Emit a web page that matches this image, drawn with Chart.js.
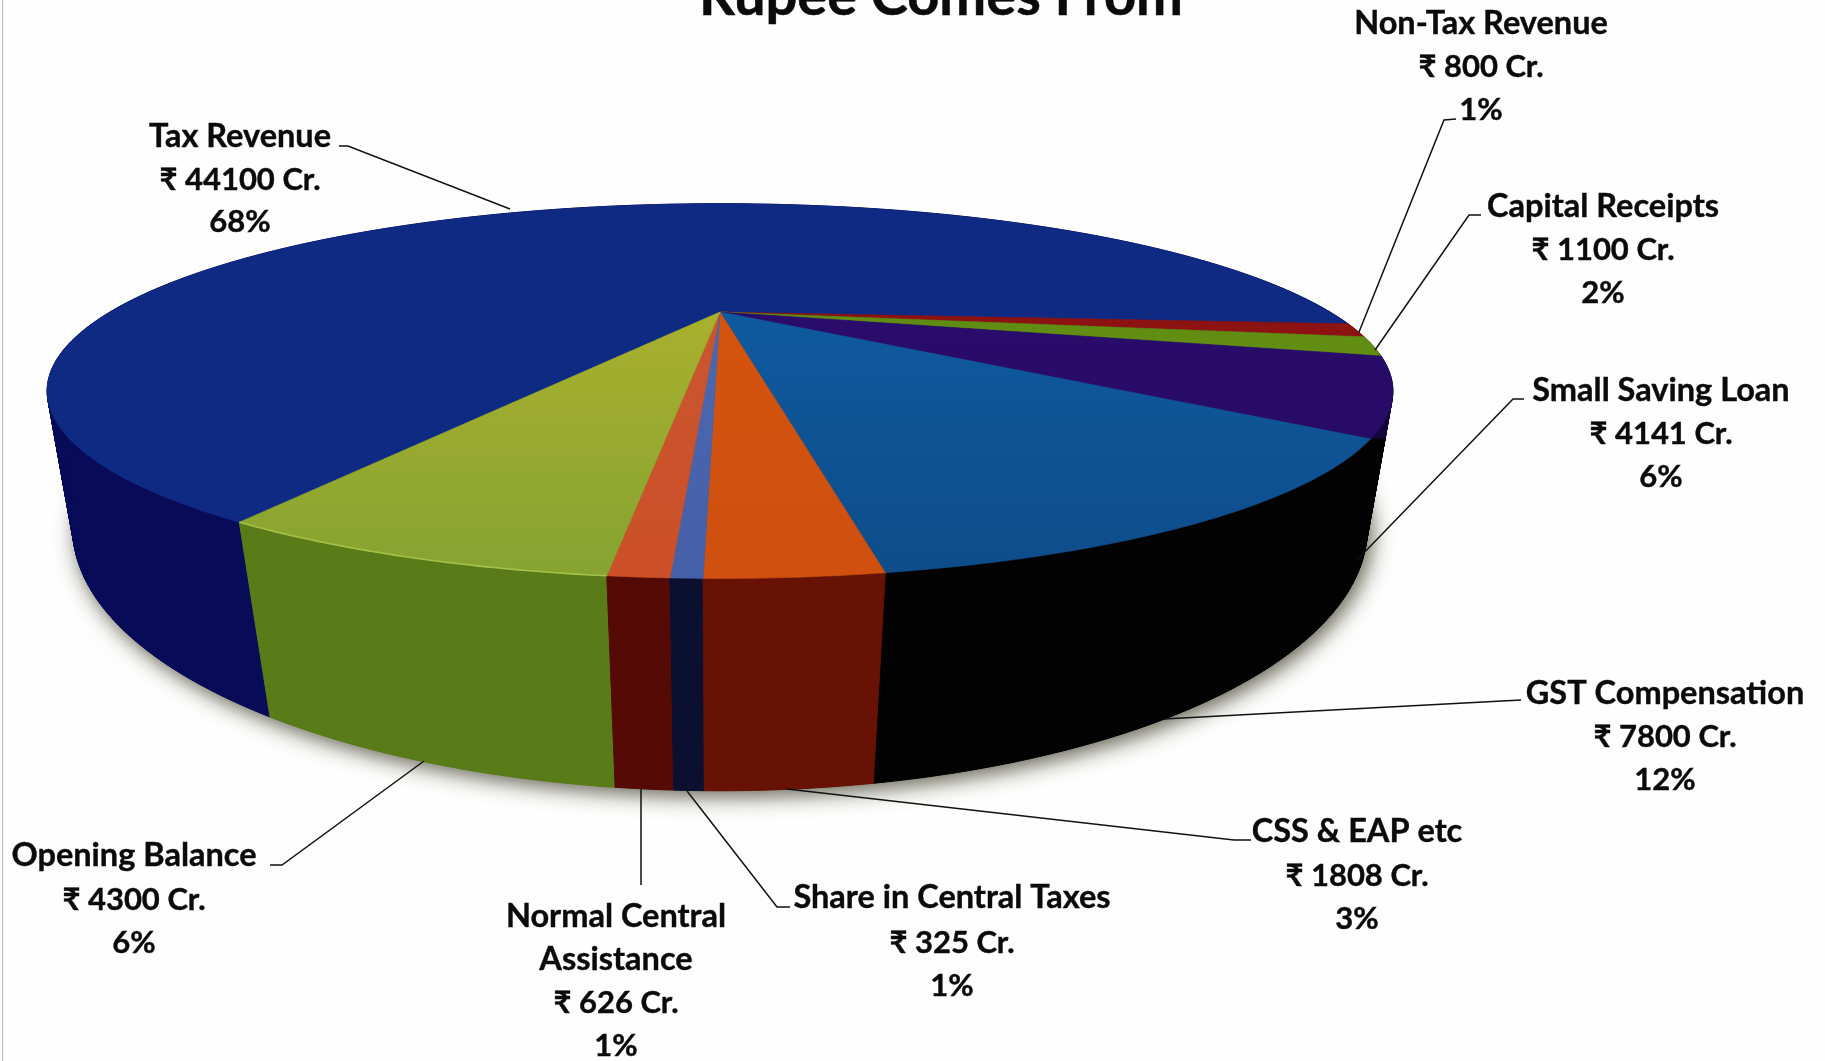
<!DOCTYPE html>
<html><head><meta charset="utf-8">
<style>html,body{margin:0;padding:0;background:#fff;overflow:hidden}canvas{display:block}</style>
<script src="https://cdn.jsdelivr.net/npm/chart.js@4"></script>
</head><body><canvas id="c" width="1825" height="1061"></canvas>
<script>
const titleText = "Rupee Comes From";
const categories = ["Tax Revenue","Non-Tax Revenue","Capital Receipts","Small Saving Loan","GST Compensation","CSS & EAP etc","Share in Central Taxes","Normal Central Assistance","Opening Balance"];
const values = [44100,800,1100,4141,7800,1808,325,626,4300];
const valueLabels = ["₹ 44100 Cr.","₹ 800 Cr.","₹ 1100 Cr.","₹ 4141 Cr.","₹ 7800 Cr.","₹ 1808 Cr.","₹ 325 Cr.","₹ 626 Cr.","₹ 4300 Cr."];
const percentLabels = ["68%","1%","2%","6%","12%","3%","1%","1%","6%"];
const topColors = ["#0f2a82","#8c1212","#5f8c12","#2a0c6c","#0e5a9e","#d4540e","#4c68b2","#c9562f","#a9b02e"];
const topColorsFront = ["#0f2a84","#a01414","#6c9a14","#240a60","#0e4c8a","#cf500f","#4560a8","#cc5028","#86a331"];
const wallColors = ["#080c58","#3a0606","#2c4208","#14053c","#020203","#681206","#0c1030","#560a05","#5a7c18"];

/* Layout of the drawing, separate from the data */
const TOP = {cx:720, cy:312, a:610, b:154, k:0.422};
const BOTTOM = {cx:720, cy:426, a:596, b:222.5, k:0.39};
const project = (d, u, v) => { const w = 1 - d.k * v; return [d.cx + d.a * u / w, d.cy + d.b * v / w]; };
const LABEL_LAYOUT = [
  {x:240, y:[137,180,222], lead:[[339,146],[348,146],[510,209]]},
  {x:1481,y:[24,67,110],  lead:[[1456,119],[1444,120],[1359,332]]},
  {x:1603,y:[207,250,293],lead:[[1481,215],[1469,215],[1375,350]]},
  {x:1661,y:[391,434,477],lead:[[1524,399],[1513,399],[1356,561]]},
  {x:1665,y:[694,737,780],lead:[[1521,700],[1163,719]]},
  {x:1357,y:[832,876,919],lead:[[1251,840],[1234,840],[787,789]]},
  {x:952, y:[898,943,986],lead:[[790,907],[777,907],[687,791]]},
  {x:616, y:[917,960,1003,1046],lead:[[641,885],[641,789]], split:["Normal Central","Assistance"]},
  {x:134, y:[856,900,943],lead:[[270,865],[282,865],[424,761]]}
];
const FONT = 'bold 32.5px Lato, "Noto Sans", sans-serif';
const FONT_NUM = 'bold 31px Lato, "Noto Sans", sans-serif';

function arcPoints(d, a0, a1, step){
  const pts = []; const n = Math.max(2, Math.ceil((a1 - a0) / step));
  for (let i = 0; i <= n; i++){ const t = a0 + (a1 - a0) * i / n; pts.push(project(d, Math.cos(t), Math.sin(t))); }
  return pts;
}
function poly(ctx, pts){ ctx.beginPath(); pts.forEach((p,i)=> i ? ctx.lineTo(p[0],p[1]) : ctx.moveTo(p[0],p[1])); ctx.closePath(); }

const pie3d = {
  id:'pie3d',
  beforeDraw(chart){
    const ctx = chart.ctx; ctx.save();
    ctx.fillStyle = '#fefefe'; ctx.fillRect(0,0,1825,1061);
    ctx.fillStyle = '#b4b8ba'; ctx.fillRect(2,0,1,1061);
    ctx.restore();
  },
  beforeDatasetDraw(chart, args){
    const ctx = chart.ctx, arcs = chart.getDatasetMeta(args.index).data;
    ctx.save();
    // ground shadow under the disc
    ctx.save();
    ctx.shadowColor = 'rgba(70,70,50,0.9)'; ctx.shadowBlur = 22; ctx.shadowOffsetY = 5; ctx.shadowOffsetX = 4;
    ctx.fillStyle = '#222'; poly(ctx, arcPoints(BOTTOM, 0, Math.PI*2, 0.02)); ctx.fill();
    ctx.restore();
    // side wall strips, back to front
    const strips = [];
    arcs.forEach((el,i)=>{
      const {startAngle:s, endAngle:e} = el.getProps(['startAngle','endAngle'], true);
      const step = Math.PI/360, n = Math.max(1, Math.ceil((e-s)/step));
      for (let j=0;j<n;j++){ const a0 = s+(e-s)*j/n, a1 = s+(e-s)*(j+1)/n; strips.push({a0,a1,i,v:Math.sin((a0+a1)/2)}); }
    });
    strips.sort((p,q)=>p.v-q.v);
    // the wall of the dark slice at the right rim gives way to the next slice's black below their shared edge
    const rimIdx = 3, rimEnd = arcs[rimIdx].getProps(['endAngle'], true).endAngle;
    const rimY = project(TOP, Math.cos(rimEnd), Math.sin(rimEnd))[1];
    const rimFill = ctx.createLinearGradient(0, rimY-1, 0, rimY+1);
    rimFill.addColorStop(0, wallColors[rimIdx]); rimFill.addColorStop(1, wallColors[rimIdx+1]);
    strips.forEach(st=>{
      const t0=project(TOP,Math.cos(st.a0),Math.sin(st.a0)), t1=project(TOP,Math.cos(st.a1),Math.sin(st.a1));
      const b0=project(BOTTOM,Math.cos(st.a0),Math.sin(st.a0)), b1=project(BOTTOM,Math.cos(st.a1),Math.sin(st.a1));
      const f = st.i === rimIdx ? rimFill : wallColors[st.i];
      poly(ctx,[t0,t1,b1,b0]); ctx.fillStyle = f; ctx.strokeStyle = f; ctx.lineWidth = 1; ctx.fill(); ctx.stroke();
    });
    // top faces
    arcs.forEach((el,i)=>{
      const {startAngle:s, endAngle:e} = el.getProps(['startAngle','endAngle'], true);
      const pts = [project(TOP,0,0), ...arcPoints(TOP,s,e,0.01)];
      const g = ctx.createLinearGradient(0,312,0,578); g.addColorStop(0,topColors[i]); g.addColorStop(1,topColorsFront[i]);
      poly(ctx,pts); ctx.fillStyle=g; ctx.strokeStyle=g; ctx.lineWidth=0.6; ctx.fill(); ctx.stroke();
    });
    // light rim on the opening-balance edge
    const o = arcs[arcs.length-1].getProps(['startAngle','endAngle'], true);
    ctx.beginPath(); arcPoints(TOP,o.startAngle,o.endAngle,0.01).forEach((p,i)=> i?ctx.lineTo(p[0],p[1]):ctx.moveTo(p[0],p[1]));
    ctx.strokeStyle='#a4c24a'; ctx.lineWidth=1.6; ctx.stroke();
    ctx.restore();
    return false;
  },
  afterDraw(chart){
    const ctx = chart.ctx; ctx.save();
    ctx.fillStyle='#0b0b0b'; ctx.strokeStyle='#0b0b0b'; ctx.textAlign='center';
    ctx.font='bold 56px Lato, "Noto Sans", sans-serif';
    ctx.textBaseline='alphabetic'; ctx.lineWidth=0.5; ctx.fillText(titleText, 941, 15); ctx.strokeText(titleText, 941, 15);
    ctx.textBaseline='middle'; ctx.lineWidth=0.4;
    categories.forEach((c,i)=>{
      const L = LABEL_LAYOUT[i];
      const names = L.split||[c];
      const lines = [...names, valueLabels[i], percentLabels[i]];
      lines.forEach((t,j)=>{ ctx.font = j < names.length ? FONT : FONT_NUM; ctx.fillText(t,L.x,L.y[j]); ctx.strokeText(t,L.x,L.y[j]);});
    });
    categories.forEach((c,i)=>{
      const L = LABEL_LAYOUT[i];
      ctx.beginPath(); L.lead.forEach((p,j)=> j?ctx.lineTo(p[0],p[1]):ctx.moveTo(p[0],p[1]));
      ctx.strokeStyle='#111'; ctx.lineWidth=1.5; ctx.stroke();
    });
    ctx.restore();
  }
};

new Chart(document.getElementById('c').getContext('2d'),{
  type:'pie',
  data:{labels:categories,datasets:[{data:values,backgroundColor:topColors,borderWidth:0}]},
  options:{responsive:false,animation:false,rotation:210,
    plugins:{legend:{display:false},tooltip:{enabled:false},title:{display:false}}},
  plugins:[pie3d]
});
</script></body></html>
